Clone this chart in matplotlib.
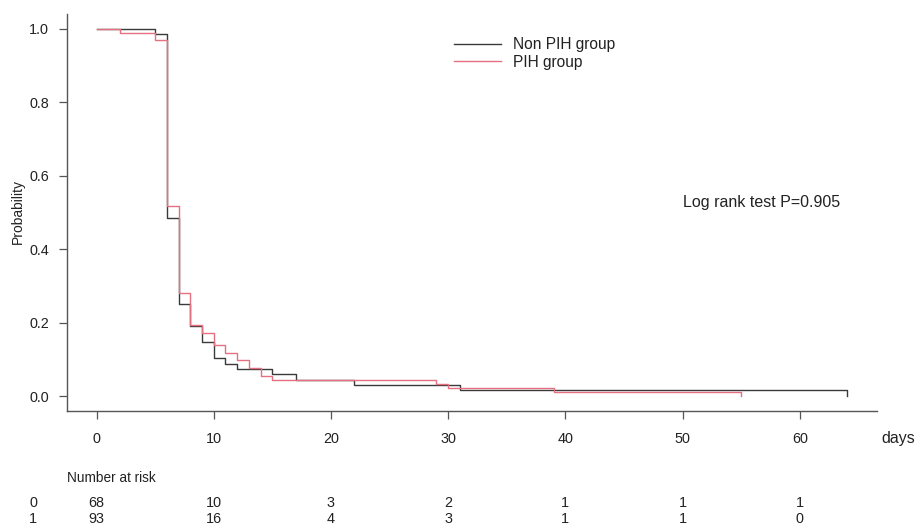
import matplotlib
matplotlib.use("Agg")
import matplotlib.pyplot as plt
from matplotlib.transforms import blended_transform_factory

plt.rcParams['font.family'] = ['Liberation Sans', 'DejaVu Sans']

# Kaplan-Meier step data
nonpih_days = [0, 5, 6, 7, 8, 9, 10, 11, 12, 15, 17, 22, 31, 64]
nonpih_surv = [1.0, 0.985, 0.485, 0.250, 0.191, 0.147, 0.103, 0.088, 0.074,
               0.059, 0.044, 0.029, 0.015, 0.0]
pih_days = [0, 2, 5, 6, 7, 8, 9, 10, 11, 12, 13, 14, 15, 29, 30, 39, 55]
pih_surv = [1.0, 0.989, 0.968, 0.516, 0.280, 0.194, 0.172, 0.140, 0.118,
            0.097, 0.075, 0.054, 0.043, 0.032, 0.022, 0.011, 0.0]

series_labels = ["Non PIH group", "PIH group"]
series_colors = ["#3a3a3a", "#E5707F"]

x_ticks = [0, 10, 20, 30, 40, 50, 60]
y_ticks = [0.0, 0.2, 0.4, 0.6, 0.8, 1.0]
risk_groups = ["0", "1"]
risk_nonpih = [68, 10, 3, 2, 1, 1, 1]
risk_pih = [93, 16, 4, 3, 1, 1, 0]

W, H = 917, 523
fig = plt.figure(figsize=(W / 100, H / 100), dpi=100)

left, right, top, bottom = 66.5, 876.7, 14.0, 410.7
ax = fig.add_axes([left / W, 1 - bottom / H, (right - left) / W, (bottom - top) / H])

ax.step(nonpih_days, nonpih_surv, where='post', color=series_colors[0], lw=1.0,
        label=series_labels[0])
ax.step(pih_days, pih_surv, where='post', color=series_colors[1], lw=1.0,
        label=series_labels[1])

ax.set_xlim(-2.56, 66.56)
ax.set_ylim(-0.04, 1.04)
ax.set_xticks(x_ticks)
ax.set_yticks(y_ticks)
ax.set_xticklabels([str(v) for v in x_ticks])
ax.set_yticklabels([f"{v:.1f}" for v in y_ticks])

for s in ['top', 'right']:
    ax.spines[s].set_visible(False)
for s in ['left', 'bottom']:
    ax.spines[s].set_color('#555555')
    ax.spines[s].set_linewidth(1.0)

ax.tick_params(axis='both', direction='out', length=6, width=0.9, color='#555555',
               labelsize=10.4, labelcolor='#222222')
ax.tick_params(axis='x', pad=9.5)
ax.tick_params(axis='y', pad=6.5)

fig.text(17.5 / W, 1 - 212 / H, "Probability", rotation=90, ha='center', va='center',
         fontsize=10, color='#222222')
fig.text(881.7 / W, 1 - 438 / H, "days", ha='left', va='center', fontsize=11.4,
         color='#222222')

ax.text(50, 0.528, "Log rank test P=0.905", ha='left', va='center', fontsize=11.5,
        color='#222222')

leg = ax.legend(loc='upper left', bbox_to_anchor=(454 / W, 1 - 37.5 / H),
                bbox_transform=fig.transFigure, frameon=False, fontsize=11.2,
                handlelength=3.0, handletextpad=0.8, labelspacing=0.15,
                borderpad=0, borderaxespad=0)
for t in leg.get_texts():
    t.set_color('#222222')

# Number at risk table
fig.text(66.7 / W, 1 - 478 / H, "Number at risk", ha='left', va='center',
         fontsize=9.8, color='#222222')
trans = blended_transform_factory(ax.transData, fig.transFigure)
row_y = [503.3, 519.0]
for gi, (g, vals) in enumerate(zip(risk_groups, [risk_nonpih, risk_pih])):
    yf = 1 - row_y[gi] / H
    fig.text(33 / W, yf, g, ha='center', va='center', fontsize=10.4, color='#222222')
    for xv, n in zip(x_ticks, vals):
        ax.text(xv, yf, str(n), transform=trans, ha='center', va='center',
                fontsize=10.4, color='#222222', clip_on=False)

fig.savefig("out.png", dpi=100)
